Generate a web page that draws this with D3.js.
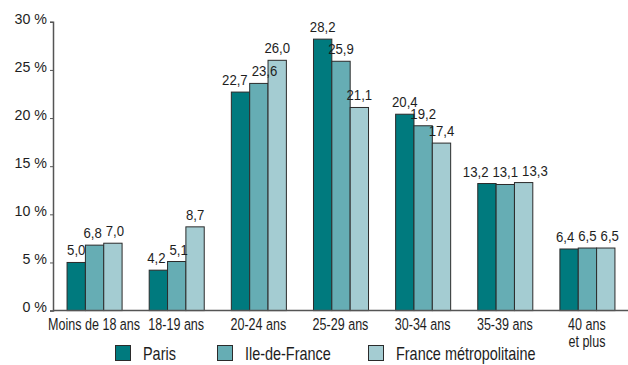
<!DOCTYPE html>
<html>
<head>
<meta charset="utf-8">
<script src="https://cdn.jsdelivr.net/npm/d3@7"></script>
<style>
  html, body { margin: 0; padding: 0; background: #fff; }
  svg { display: block; font-family: "Liberation Sans", Arial, sans-serif; }
</style>
</head>
<body>
<svg id="chart" width="628" height="365"></svg>
<script>
// Age groups (two-line labels split on "\n")
const categories = ["Moins de 18 ans", "18-19 ans", "20-24 ans", "25-29 ans", "30-34 ans", "35-39 ans", "40 ans\net plus"];
const seriesNames = ["Paris", "Ile-de-France", "France métropolitaine"];
const paris = [5.0, 4.2, 22.7, 28.2, 20.4, 13.2, 6.4];
const ileDeFrance = [6.8, 5.1, 23.6, 25.9, 19.2, 13.1, 6.5];
const franceMetro = [7.0, 8.7, 26.0, 21.1, 17.4, 13.3, 6.5];
const yTicks = [0, 5, 10, 15, 20, 25, 30];

const seriesValues = [paris, ileDeFrance, franceMetro];
const colors = ["#007a7e", "#66adb4", "#a4ccd2"];
const textColor = "#1e1e1e";

const svg = d3.select("#chart");
const plotLeft = 53, plotRight = 628, plotTop = 21.8, plotBottom = 310.6;

const x = d3.scaleBand().domain(categories).range([plotLeft, plotRight])
  .paddingInner(0.33).paddingOuter(0.165);
const xs = d3.scaleBand().domain(seriesNames).range([0, x.bandwidth()]);
const y = d3.scaleLinear().domain([0, 30]).range([plotBottom, plotTop]);

const fmt = v => d3.format(".1f")(v).replace(".", ",");

// Condensed text: drawn at (tx, ty) and squeezed horizontally by sx
function ntext(parent, tx, ty, str, size, anchor, sx) {
  return parent.append("text")
    .attr("transform", `translate(${tx},${ty}) scale(${sx},1)`)
    .attr("text-anchor", anchor)
    .attr("font-size", size)
    .attr("fill", textColor)
    .text(str);
}

// Bars
const bars = svg.append("g");
categories.forEach((cat, i) => {
  seriesNames.forEach((s, j) => {
    const v = seriesValues[j][i];
    bars.append("rect")
      .attr("x", x(cat) + xs(s) + 0.5)
      .attr("y", y(v))
      .attr("width", xs.bandwidth())
      .attr("height", y(0) - y(v))
      .attr("fill", colors[j])
      .attr("stroke", "#2b2b2b")
      .attr("stroke-width", 1);
  });
});

// Value labels: centred above each bar, then nudged apart within a group
const labelLayer = svg.append("g");
const labelSize = 15.5, labelSqueeze = 0.85, labelHeight = 11.5, labelGap = 7, labelSpace = 4;
categories.forEach((cat, i) => {
  const items = seriesNames.map((s, j) => {
    const v = seriesValues[j][i];
    const t = ntext(labelLayer, 0, 0, fmt(v), labelSize, "middle", labelSqueeze);
    const w = t.node().getComputedTextLength() * labelSqueeze;
    return { t, v, w, cx: x(cat) + xs(s) + xs.bandwidth() / 2 + 0.5, base: y(v) - labelGap };
  });
  for (let iter = 0; iter < 30; iter++) {
    for (let k = 1; k < items.length; k++) {
      const a = items[k - 1], b = items[k];
      const vOverlap = Math.abs(a.base - b.base) < labelHeight;
      const overlap = (a.cx + a.w / 2 + labelSpace) - (b.cx - b.w / 2);
      if (vOverlap && overlap > 0.01) {
        a.cx -= overlap / 2;
        b.cx += overlap / 2;
      }
    }
  }
  items.forEach(d => d.t.attr("transform", `translate(${d.cx},${d.base}) scale(${labelSqueeze},1)`));
});

// Y axis
const tickSqueeze = 0.92;
const yAxis = d3.axisLeft(y).tickValues(yTicks).tickSize(3).tickPadding(3)
  .tickFormat(d => d + " %");
const ya = svg.append("g").attr("transform", `translate(${plotLeft},0)`).call(yAxis);
ya.attr("font-family", null).attr("font-size", null);
ya.select(".domain").attr("stroke", "#555").attr("stroke-width", 1.5);
ya.selectAll(".tick line").attr("stroke", "#555");
ya.selectAll(".tick text")
  .attr("font-size", 15.5)
  .attr("fill", textColor)
  .attr("x", -6 / tickSqueeze)
  .attr("dy", "0.08em")
  .attr("transform", `scale(${tickSqueeze},1)`);

// Baseline
svg.append("line")
  .attr("x1", plotLeft).attr("x2", plotRight)
  .attr("y1", y(0)).attr("y2", y(0))
  .attr("stroke", "#555").attr("stroke-width", 1.5);

// Category labels
const xa = svg.append("g");
categories.forEach(cat => {
  const cx = x(cat) + x.bandwidth() / 2;
  cat.split("\n").forEach((line, k) => {
    ntext(xa, cx, 330 + k * 17, line, 16.3, "middle", 0.77);
  });
});

// Legend
const legendX = [115, 217, 368];
const legend = svg.append("g");
seriesNames.forEach((s, j) => {
  legend.append("rect")
    .attr("x", legendX[j] + 0.5).attr("y", 345.5)
    .attr("width", 15).attr("height", 15)
    .attr("fill", colors[j]).attr("stroke", "#2b2b2b");
  ntext(legend, legendX[j] + 28, 360, s, 18.5, "start", 0.78);
});
</script>
</body>
</html>
